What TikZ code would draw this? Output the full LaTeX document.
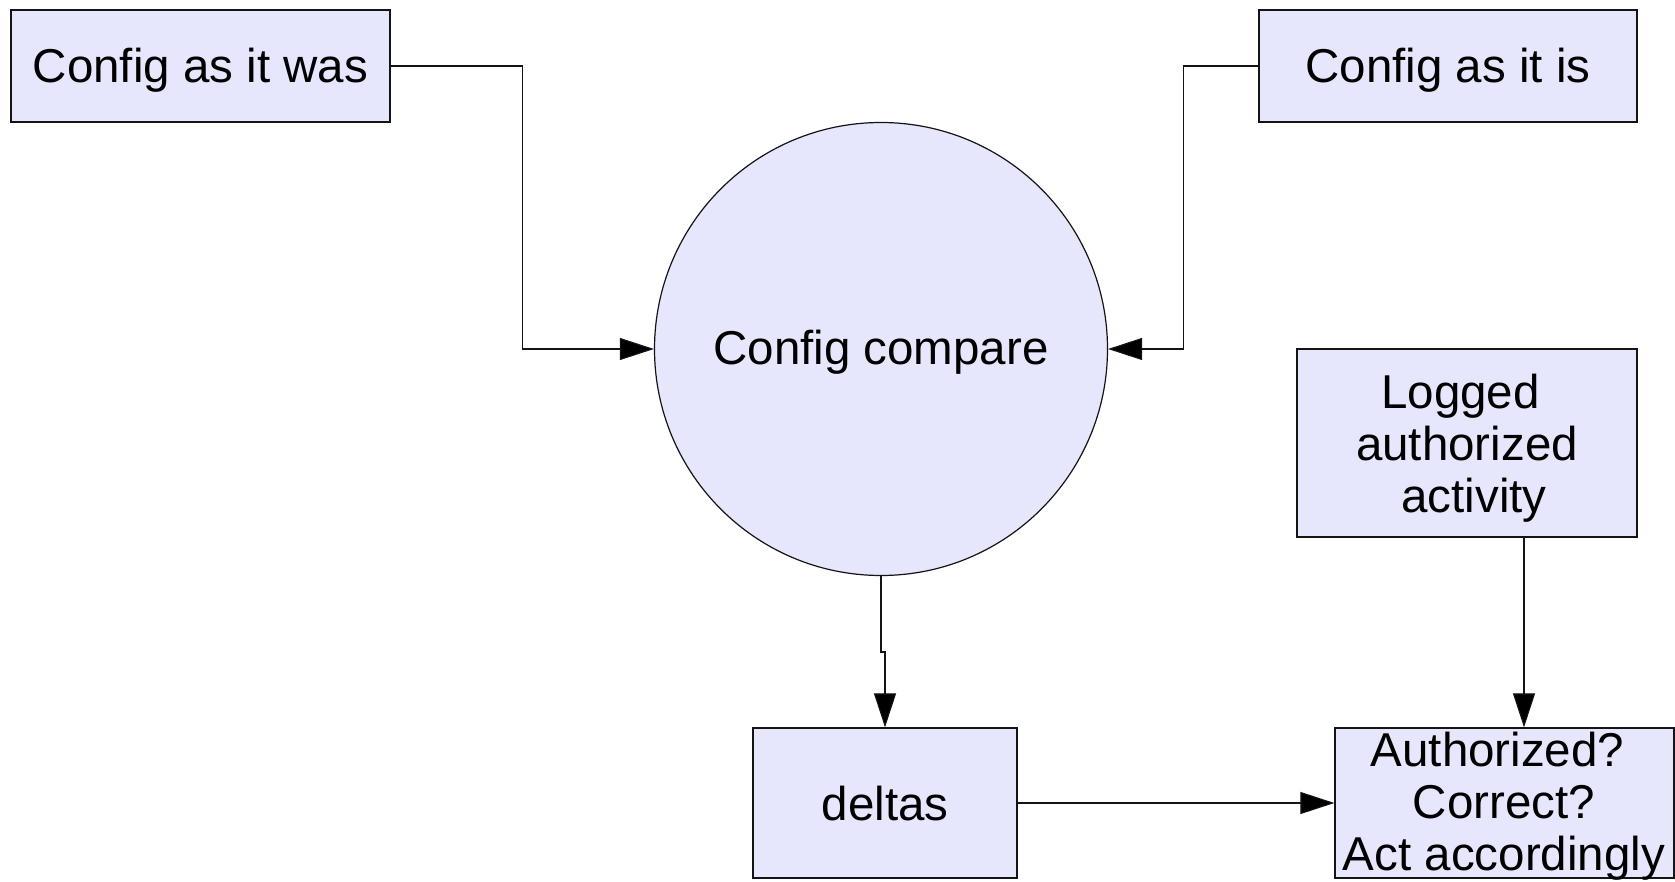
\documentclass[tikz,border=0pt]{standalone}
\usepackage{fontspec}
\setmainfont{Liberation Sans}
\usetikzlibrary{arrows.meta}
\definecolor{lav}{RGB}{230,230,252}
\definecolor{edge}{RGB}{20,20,20}
\tikzset{
  box/.style={draw=edge, fill=lav, line width=1.2pt, inner sep=0pt, rectangle},
  bubble/.style={draw=edge, fill=lav, line width=1.2pt, inner sep=0pt, circle},
  lbl/.style={inner sep=0pt, align=center, font=\fontsize{47.5}{52}\selectfont},
  arr/.style={draw=edge, line width=1.1pt, -{Triangle[length=34pt,width=22pt,fill=black]}},
}
\begin{document}
\begin{tikzpicture}[x=1pt, y=-1pt]
\useasboundingbox (0,0) rectangle (1675,882);

% process boxes
\node[box, minimum width=379pt, minimum height=112pt] (was) at (200.5,66) {};
\node[lbl] (wastext) at (200.5,70) {Config as it was};
\node[box, minimum width=378pt, minimum height=112pt] (is) at (1448,66) {};
\node[lbl] (istext) at (1448,70) {Config as it is};
\node[bubble, minimum size=453pt] (cmp) at (881,349) {};
\node[lbl] (cmptext) at (881,352) {Config compare};
\node[box, minimum width=340pt, minimum height=188pt] (logged) at (1467,443) {};
\node[lbl] (loggedtext) at (1467,448) {Logged\hspace*{13pt}\\authorized\\\hspace*{14pt}activity};
\node[box, minimum width=264pt, minimum height=150pt] (deltas) at (885,803) {};
\node[lbl] (deltastext) at (885,804) {deltas};
\node[box, minimum width=339pt, minimum height=150pt] (auth) at (1504.5,803) {};
\node[lbl] (authtext) at (1504,806) {Authorized?\hspace*{13pt}\\Correct?\\Act accordingly};

% connectors
\coordinate (jog) at (0,652);
\coordinate (lx) at (1524,0);
\draw[arr] (was.east) -- ++(132,0) |- (cmp.west);
\draw[arr] (is.west) -- ++(-75,0) |- (cmp.east);
\draw[arr] (cmp.south) -- (cmp.south |- jog) -- (deltas.north |- jog) -- (deltas.north);
\draw[arr] (logged.south -| lx) -- (auth.north -| lx);
\draw[arr] (deltas.east) -- (auth.west);
\end{tikzpicture}
\end{document}
